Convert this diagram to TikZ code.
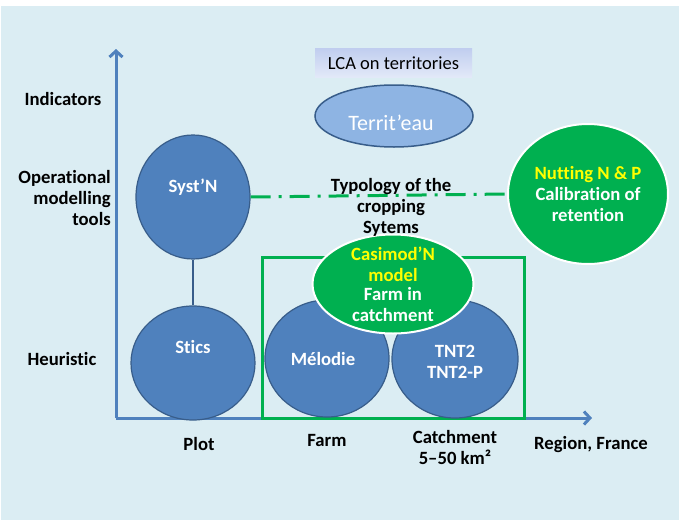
\documentclass[tikz,border=0pt]{standalone}
\usepackage{fontspec}
\setmainfont{Carlito}[Ligatures=NoCommon]
\usetikzlibrary{shapes.geometric,arrows.meta}
\definecolor{bgc}{HTML}{DBEDF3}
\definecolor{axc}{HTML}{4F81BD}
\definecolor{bfill}{HTML}{4F81BD}
\definecolor{bdraw}{HTML}{385D8A}
\definecolor{gfill}{HTML}{00B050}
\definecolor{tfill}{HTML}{8EB4E3}
\definecolor{ylw}{HTML}{FFFF00}
\definecolor{lcatop}{HTML}{C0CDEF}
\definecolor{lcabot}{HTML}{E2E9F8}
\tikzset{
  bluell/.style={ellipse, fill=bfill, draw=bdraw, line width=1.2pt, inner sep=0pt},
  greenell/.style={ellipse, fill=gfill, draw=white, line width=2pt, inner sep=0pt},
  lbl/.style={font=\fontsize{18.7}{21}\selectfont\bfseries, text=black, align=center, inner sep=0pt},
  wlbl/.style={font=\fontsize{18.7}{21}\selectfont\bfseries, text=white, align=center, inner sep=0pt},
  ylbl/.style={font=\fontsize{18.7}{21}\selectfont\bfseries, text=ylw, align=center, inner sep=0pt},
  axis/.style={draw=axc, line width=3pt, -{Straight Barb[length=6pt,width=13pt,line width=3pt]}}
}
\begin{document}
\begin{tikzpicture}[x=1pt,y=-1pt]
\useasboundingbox (0,0) rectangle (681,520);
\fill[white] (0,0) rectangle (681,520);
\fill[bgc] (1,6) rectangle (679,520);
% axes
\coordinate (O) at (116,418);
\coordinate (ytop) at (116,49);
\coordinate (xend) at (592,418);
\draw[axis] (O) -- (ytop);
\draw[axis] (O) -- (xend);
% green rectangle
\node[draw=gfill, line width=3pt, minimum width=262pt, minimum height=161pt, inner sep=0pt] (frame) at (393,337.5) {};
% blue ellipses
\node[bluell, minimum width=114pt, minimum height=124pt] (syst) at (193,197) {};
\node[bluell, minimum width=124pt, minimum height=114pt] (stics) at (193,363) {};
\draw[bdraw, line width=1.2pt] (syst.south) -- (stics.north);
\node[bluell, minimum width=124pt, minimum height=117pt] (melo) at (327,358.5) {};
\node[bluell, minimum width=126pt, minimum height=118pt] (tnt) at (455,359) {};
% green ellipses
\node[greenell, minimum width=161pt, minimum height=99pt] (casi) at (393,284) {};
\node[greenell, minimum width=160pt, minimum height=140pt] (nut) at (588,194) {};
\draw[gfill, line width=3pt, dash pattern=on 20pt off 8pt on 3pt off 8pt] (syst.east) -- (nut.west);
% Territ'eau
\node[ellipse, fill=tfill, draw=bdraw, line width=1.5pt, minimum width=158pt, minimum height=62pt, inner sep=0pt] (terr) at (394,116) {};
\node[font=\fontsize{22}{24}\selectfont, text=white, inner sep=0pt] (terrt) at (391,123) {Territ’eau};
% LCA box
\node[top color=lcatop, bottom color=lcabot, minimum width=157pt, minimum height=29pt, inner sep=0pt] (lca) at (393.5,62.5) {};
\node[font=\fontsize{18.5}{21}\selectfont, text=black, inner sep=0pt] (lcat) at (393.5,63) {LCA on territories};
% ellipse texts
\node[wlbl] (systt) at (193,187) {Syst’N};
\node[wlbl] (sticst) at (193,347) {Stics};
\node[wlbl] (melot) at (323,359) {Mélodie};
\node[wlbl] (tntt) at (455,362) {TNT2\\TNT2-P};
\node[ylbl] (casit1) at (393,264.5) {Casimod’N\\model};
\node[wlbl] (casit2) at (393,305) {Farm in\\catchment};
\node[ylbl] (nutt1) at (588,175) {Nutting N \& P};
\node[wlbl] (nutt2) at (588,205) {Calibration of\\retention};
% typology
\node[lbl] (typo) at (391,207) {Typology of the\\cropping\\Sytems};
% axis labels
\node[lbl] (ind) at (63,99) {Indicators};
\node[lbl, align=right, anchor=east] (oper) at (111,198) {Operational\\modelling\\tools};
\node[lbl] (heur) at (62,359) {Heuristic};
\node[lbl] (plot) at (199,444) {Plot};
\node[lbl] (farm) at (327,440) {Farm};
\node[lbl] (catch) at (455,447) {Catchment\\5–50 km²};
\node[lbl] (reg) at (591,445) {Region, France};
\end{tikzpicture}
\end{document}
